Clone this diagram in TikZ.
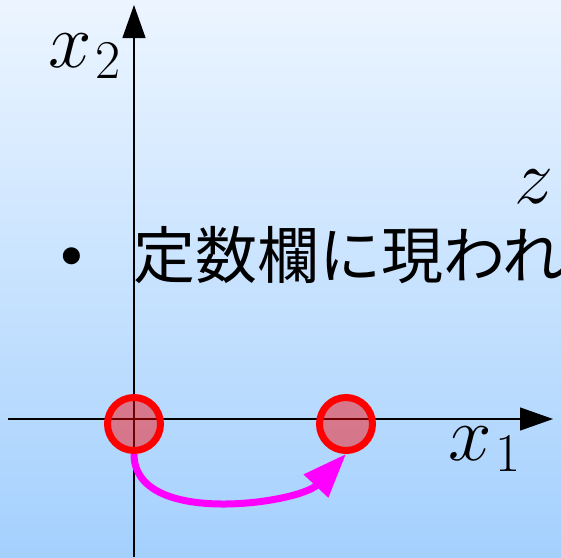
\RequirePackage{fix-cm}
\documentclass[tikz,border=0pt]{standalone}
\usepackage{fontspec}
\newfontfamily\jpfont{Noto Sans CJK JP}
\usetikzlibrary{arrows.meta}
\definecolor{bgtop}{RGB}{236,245,255}
\definecolor{bgbot}{RGB}{164,208,254}
\definecolor{mag}{RGB}{255,0,255}
\begin{document}
\begin{tikzpicture}[x=0.5pt,y=-0.5pt,
  axis/.style={line width=0.6pt,-{Triangle[length=16.5pt,width=11.5pt]}},
  lbl/.style={inner sep=0pt,anchor=base west,font=\fontsize{39}{40}\selectfont},
  dot/.style={circle,inner sep=0pt,minimum size=26.5pt,draw=red,line width=3.5pt,fill=red,fill opacity=0.45,draw opacity=1},
  move/.style={draw=mag,line width=3.5pt,-{Triangle[length=22pt,width=16pt]}}]
\useasboundingbox (0,0) rectangle (561,557);
\shade[top color=bgtop,bottom color=bgbot] (0,0) rectangle (561,557);
\coordinate (ybot) at (134,557);
\coordinate (ytop) at (134,5);
\coordinate (xl) at (8,419);
\coordinate (xr) at (553,419);
\draw[axis] (ybot) -- (ytop);
\draw[axis] (xl) -- (xr);
\node[lbl] (lx2) at (48,67) {$x_{\kern2pt 2}$};
\node[lbl] (lx1) at (448,460) {$x_{\kern2pt 1}$};
\node[lbl] (lz) at (514,203) {$z$};
\node[inner sep=0pt,anchor=center,font=\fontsize{38}{38}\selectfont] (bul) at (72,262) {\textbullet};
\node[inner sep=0pt,anchor=base west,font=\jpfont\fontsize{31}{31}\selectfont] (txt) at (133,278) {定数欄に現われ};
\node[dot] (a) at (134,424) {};
\node[dot] (b) at (346,424) {};
\draw[move] (a.south) .. controls (134,528) and (300,503) .. (b.south);
\end{tikzpicture}
\end{document}
